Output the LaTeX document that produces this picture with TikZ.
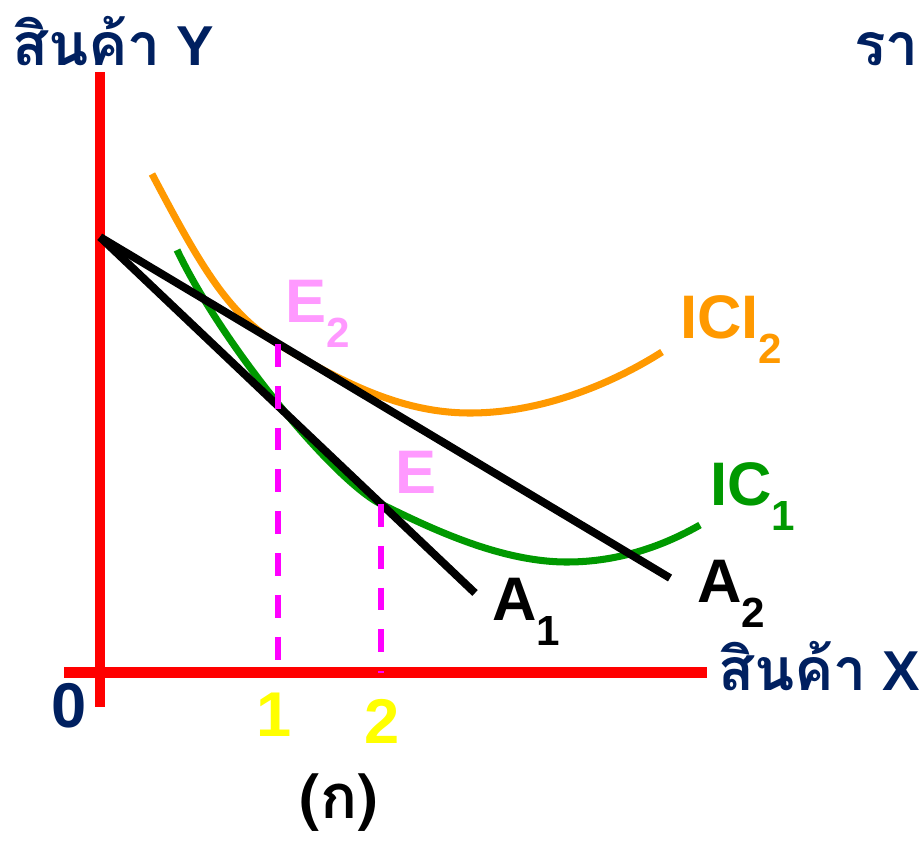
\documentclass[tikz,border=0pt]{standalone}
\usepackage{fontspec}
\setmainfont{Liberation Sans}
\newfontfamily\thaifont[Script=Thai]{Loma}
\usetikzlibrary{positioning}
\definecolor{navy}{HTML}{002060}
\definecolor{axisred}{HTML}{FF0000}
\definecolor{icorange}{HTML}{FF9900}
\definecolor{icgreen}{HTML}{009900}
\definecolor{guide}{HTML}{FF00FF}
\definecolor{eqpink}{HTML}{FF99FF}
\definecolor{ticky}{HTML}{FFFF00}
\newcommand{\lowsub}[1]{\raisebox{-0.41em}{\fontsize{24}{24}\selectfont #1}}
\newcommand{\thaiword}[1]{{\fontsize{33.5}{33.5}\selectfont\thaifont #1}}

\begin{document}
\begin{tikzpicture}[x=0.02cm,y=-0.02cm,
 lbl/.style={inner sep=0,anchor=base west,font=\fontsize{35}{35}\selectfont\bfseries},
 axlbl/.style={inner sep=0,anchor=base west,text=navy,font=\fontsize{32}{32}\selectfont\bfseries},
 budget/.style={line width=4.5pt,black},
 guideline/.style={line width=3.4pt,guide,dash pattern=on 13pt off 10.8pt}]
 \useasboundingbox (0,0) rectangle (922,842);
 % axes
 \draw[axisred,line width=6.2pt] (100,72)--(100,707);
 \draw[axisred,line width=6.2pt] (64,672.5)--(707,672.5);
 \node[axlbl] (ylab) at (12,65) {\thaiword{สินค้า} Y};
 \node[axlbl] (cut) at (854,65) {\thaiword{รา}};
 \node[axlbl] (xlab) at (718,690) {\thaiword{สินค้า} X};
 \node[inner sep=0,text=navy,font=\fontsize{36}{36}\selectfont\bfseries] (zero) at (69,705.5) {0};
 % key points
 \coordinate (top) at (100,237);
 \coordinate (e2) at (278,344);
 \coordinate (e1) at (381,504);
 \coordinate (a1end) at (475,593);
 \coordinate (a2end) at (670,578);
 \coordinate (foot2) at (278,672.5);
 \coordinate (foot1) at (381,672.5);
 % indifference curves
 \draw[icorange,line width=4pt] (152,174) .. controls (200,265) and (228,314) .. (e2)
  .. controls (340,381) and (400,413) .. (470,413)
  .. controls (540,413) and (610,385) .. (662,352);
 \draw[icgreen,line width=4pt] (177,250) .. controls (225,350) and (336,482) .. (e1)
  .. controls (430,528) and (500,562) .. (567,562)
  .. controls (620,562) and (665,545) .. (700,525);
 % budget lines
 \draw[budget] (top)--(a2end);
 \draw[budget] (top)--(a1end);
 % guides
 \draw[guideline] (e2)--(foot2);
 \draw[guideline] (e1)--(foot1);
 % labels
 \node[lbl,text=eqpink] (e2lab) at (285,322) {E\lowsub{2}};
 \node[lbl,text=eqpink] (elab) at (395,493) {E};
 \node[lbl,text=icorange] (ic2lab) at (680,338) {ICI\lowsub{2}};
 \node[lbl,text=icgreen] (ic1lab) at (710,505) {IC\lowsub{1}};
 \node[lbl] (a1lab) at (492,620) {A\lowsub{1}};
 \node[lbl] (a2lab) at (697,602) {A\lowsub{2}};
 \node[inner sep=0,text=ticky,font=\fontsize{36}{36}\selectfont\bfseries] (tick1) at (274,715) {1};
 \node[inner sep=0,text=ticky,font=\fontsize{36}{36}\selectfont\bfseries] (tick2) at (382,721) {2};
 \node[inner sep=0,font=\fontsize{35}{35}\selectfont\bfseries] (panel) at (339,803) {\thaifont (ก)};
\end{tikzpicture}
\end{document}
